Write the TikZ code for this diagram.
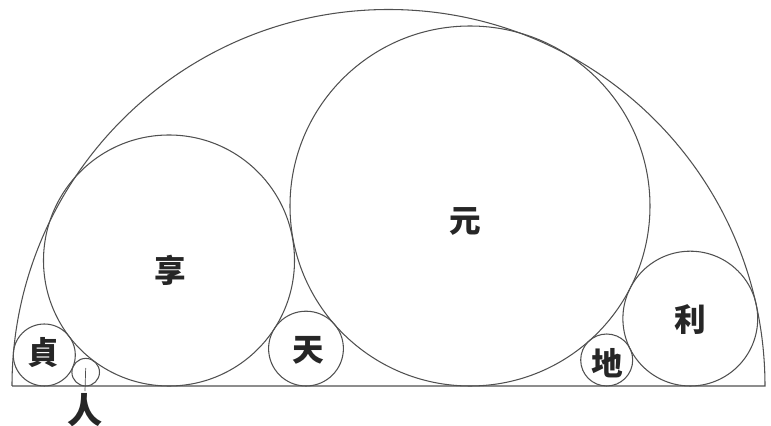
\documentclass[tikz,border=0pt]{standalone}
\usepackage{fontspec}
\newfontfamily\cjk{Noto Sans CJK TC}
\usepackage{tikz}
\usetikzlibrary{positioning}
\definecolor{ink}{HTML}{505050}

\begin{document}
\begin{tikzpicture}[x=0.2mm, y=0.2mm, line width=0.6pt, every node/.style={font=\cjk\bfseries\fontsize{18}{18}\selectfont, text=black!85, inner sep=1pt}, ring/.style={draw=ink}]
\useasboundingbox (0,0) rectangle (771,426);
\draw[ring] (12,40) -- (765,40) arc[start angle=0, end angle=180, radius=376.5] -- cycle;
\draw[ring] (169,165.5) circle[radius=125.5];
\draw[ring] (470,220) circle[radius=180];
\draw[ring] (690.3,107.4) circle[radius=67.4];
\draw[ring] (44.3,71) circle[radius=31];
\draw[ring] (85.7,53.8) circle[radius=13.8];
\draw[ring] (306,77.4) circle[radius=37.4];
\draw[ring] (606.7,66) circle[radius=26];
\node (yuan) at (465,205) {元};
\node (heng) at (170,156) {享};
\node (li) at (690,106) {利};
\node (zhen) at (43,73) {貞};
\node (tian) at (308,76) {天};
\node (di) at (607,63) {地};
\node[font=\cjk\bfseries\fontsize{20}{20}\selectfont] (ren) at (85,16) {人};
\coordinate (renc) at (85.7,58);
\draw[ink, line width=0.4pt] (renc) -- (ren.north);
\end{tikzpicture}
\end{document}
